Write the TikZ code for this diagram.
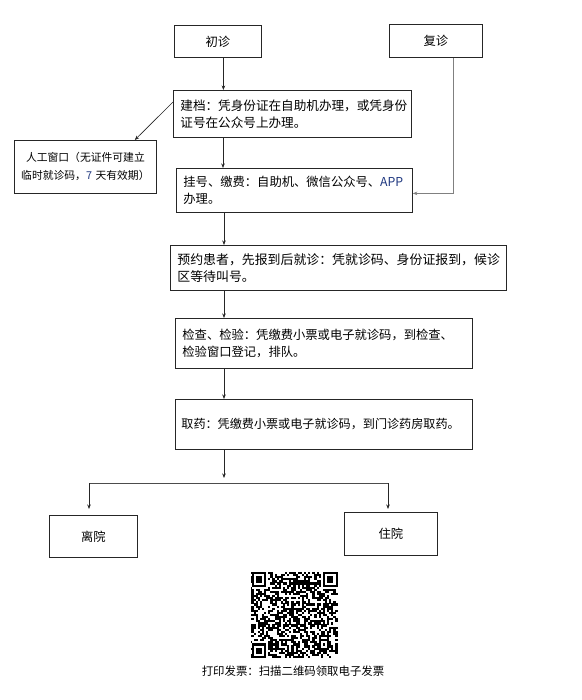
\documentclass[tikz,border=0pt]{standalone}
\usepackage{fontspec}
\newfontfamily\cjk{Noto Sans CJK SC}
\usetikzlibrary{arrows.meta,calc}
\newcommand\qrm{2.1}
\begin{document}
\begin{tikzpicture}[x=1pt,y=-1pt,
  font=\cjk,
  box/.style={draw=black!85, line width=0.8pt, anchor=north west, inner xsep=7pt, inner ysep=2pt,
    align=left, font=\cjk\fontsize{12.3}{16.5}\selectfont},
  cbox/.style={box, align=center},
  arr/.style={draw=black!85, line width=0.6pt, -{Stealth[length=4.5pt,width=3.5pt]}},
  arrgray/.style={draw=black!50, line width=0.8pt, -{Stealth[length=4.5pt,width=3.5pt]}},
  conn/.style={draw=black!70, line width=0.8pt},
  qr/.style={fill=black}
]
\fill[white] (0,0) rectangle (581,700);
\useasboundingbox (0,0) rectangle (581,700);

% boxes
\node[cbox, text width=73pt, minimum height=32pt] (chuzhen) at (174,25) {初诊};
\node[cbox, text width=79pt, minimum height=33pt] (fuzhen) at (389,24) {复诊};
\node[box, text width=224pt, minimum height=47pt, font=\cjk\fontsize{12.6}{17}\selectfont] (jiandang) at (173,90)
  {建档：凭身份证在自助机办理，或凭身份\\证号在公众号上办理。};
\node[cbox, text width=132pt, inner xsep=5pt, minimum height=53pt, font=\cjk\fontsize{10.8}{18}\selectfont] (manual) at (14,140)
  {人工窗口（无证件可建立\\临时就诊码，{\color[rgb]{0.12,0.22,0.5}7} 天有效期）};
\node[box, text width=222pt, minimum height=44pt] (guahao) at (176,168)
  {挂号、缴费：自助机、微信公众号、{\color[rgb]{0.12,0.22,0.5}APP}\\办理。};
\node[box, text width=322pt, minimum height=45pt, font=\cjk\fontsize{12.9}{17}\selectfont] (yuyue) at (170,245)
  {预约患者，先报到后就诊：凭就诊码、身份证报到，候诊\\区等待叫号。};
\node[box, text width=283pt, minimum height=50pt] (jiancha) at (175,318)
  {检查、检验：凭缴费小票或电子就诊码，到检查、\\检验窗口登记，排队。};
\node[box, text width=285pt, inner xsep=6pt, minimum height=50pt, font=\cjk\fontsize{12.1}{16}\selectfont] (quyao) at (175,399)
  {取药：凭缴费小票或电子就诊码，到门诊药房取药。};
\node[cbox, text width=74pt, minimum height=42pt] (liyuan) at (49,515) {离院};
\node[cbox, text width=79pt, minimum height=43pt] (zhuyuan) at (344,512) {住院};

% connectors
\draw[arr] ([xshift=5.5pt]chuzhen.south) -- ([xshift=5.5pt]chuzhen.south |- jiandang.north);
\draw[arr] ($(jiandang.north west)+(0,12)$) -- ($(manual.north east)+(-22,0)$);
\draw[arr] ($(jiandang.south west)+(50,0)$) -- ($(guahao.north west)+(47,0)$);
\draw[arrgray] ($(fuzhen.south)+(17.5,0)$) |- ($(guahao.east)+(0,3)$);
\draw[arr] ($(guahao.south west)+(48,0)$) -- ($(yuyue.north west)+(54,0)$);
\draw[arr] ($(yuyue.south west)+(54,0)$) -- ($(jiancha.north west)+(49,0)$);
\draw[arr] ($(jiancha.south west)+(49,0)$) -- ($(quyao.north west)+(49,0)$);
\coordinate (j) at (224,483);
\coordinate (bl) at (89,483);
\coordinate (br) at (388,483);
\draw[arr] ($(quyao.south west)+(49,0)$) -- ($(j)+(0,-5)$);
\draw[conn] (bl) -- (br);
\draw[arr] (bl) -- ($(bl |- liyuan.north)+(0,-6)$);
\draw[arr] (br) -- ($(br |- zhuyuan.north)+(0,-3)$);

% QR code
\begin{scope}[shift={(251.5,572)}]
  \pgfmathsetseed{4242}
  \foreach \i in {0,...,40}{
    \foreach \j in {0,...,40}{
      \pgfmathsetmacro\r{rnd}
      \ifdim\r pt<0.52pt
        \fill[qr] (\i*\qrm-0.05,\j*\qrm-0.05) rectangle ++(\qrm+0.1,\qrm+0.1);
      \fi
    }
  }
  % clear finder areas
  \fill[white] (0,0) rectangle (8*\qrm,8*\qrm);
  \fill[white] (33*\qrm,0) rectangle (41*\qrm,8*\qrm);
  \fill[white] (0,33*\qrm) rectangle (8*\qrm,41*\qrm);
  \foreach \cx/\cy in {0/0,34/0,0/34}{
    \fill[qr] (\cx*\qrm,\cy*\qrm) rectangle ++(7*\qrm,7*\qrm);
    \fill[white] (\cx*\qrm+\qrm,\cy*\qrm+\qrm) rectangle ++(5*\qrm,5*\qrm);
    \fill[qr] (\cx*\qrm+2*\qrm,\cy*\qrm+2*\qrm) rectangle ++(3*\qrm,3*\qrm);
  }
  % alignment pattern
  \fill[qr] (32*\qrm,32*\qrm) rectangle ++(5*\qrm,5*\qrm);
  \fill[white] (33*\qrm,33*\qrm) rectangle ++(3*\qrm,3*\qrm);
  \fill[qr] (34*\qrm,34*\qrm) rectangle ++(\qrm,\qrm);
\end{scope}

\node[font=\cjk\fontsize{11.4}{14}\selectfont] (caption) at (293,671) {打印发票：扫描二维码领取电子发票};
\end{tikzpicture}
\end{document}
